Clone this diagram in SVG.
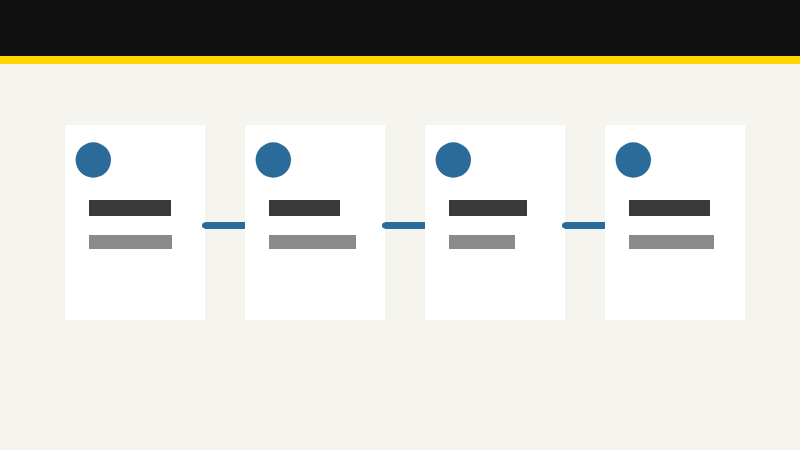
<svg xmlns="http://www.w3.org/2000/svg" width="800" height="450" viewBox="0 0 800 450">
  <style>
    .card { fill: #ffffff; }
    .dot { fill: #2b6b9a; }
    .title { fill: #3a3a3a; }
    .sub { fill: #8a8a8a; }
    .conn { stroke: #2b6b9a; stroke-width: 7; fill: none; }
    .cap { fill: #2b6b9a; }
  </style>
  <rect x="0" y="0" width="800" height="450" fill="#f5f4ee"/>
  <rect x="0" y="0" width="800" height="56" fill="#111111"/>
  <rect x="0" y="56" width="800" height="8" fill="#ffd500"/>
  <g id="node1">
    <rect class="card" x="65" y="125" width="140" height="195"/>
    <circle class="dot" cx="93.3" cy="160" r="17.7"/>
    <rect class="title" x="89" y="200" width="82" height="16"/>
    <rect class="sub" x="89" y="235" width="83" height="14"/>
  </g>
  <g id="node2">
    <rect class="card" x="245" y="125" width="140" height="195"/>
    <circle class="dot" cx="273.3" cy="160" r="17.7"/>
    <rect class="title" x="269" y="200" width="71" height="16"/>
    <rect class="sub" x="269" y="235" width="87" height="14"/>
  </g>
  <g id="node3">
    <rect class="card" x="425" y="125" width="140" height="195"/>
    <circle class="dot" cx="453.3" cy="160" r="17.7"/>
    <rect class="title" x="449" y="200" width="78" height="16"/>
    <rect class="sub" x="449" y="235" width="66" height="14"/>
  </g>
  <g id="node4">
    <rect class="card" x="605" y="125" width="140" height="195"/>
    <circle class="dot" cx="633.3" cy="160" r="17.7"/>
    <rect class="title" x="629" y="200" width="81" height="16"/>
    <rect class="sub" x="629" y="235" width="85" height="14"/>
  </g>
  <g id="connectors">
    <line class="conn" x1="205" y1="225.5" x2="245" y2="225.5"/>
    <circle class="cap" cx="205" cy="225.5" r="3"/>
    <line class="conn" x1="385" y1="225.5" x2="425" y2="225.5"/>
    <circle class="cap" cx="385" cy="225.5" r="3"/>
    <line class="conn" x1="565" y1="225.5" x2="605" y2="225.5"/>
    <circle class="cap" cx="565" cy="225.5" r="3"/>
  </g>
</svg>
